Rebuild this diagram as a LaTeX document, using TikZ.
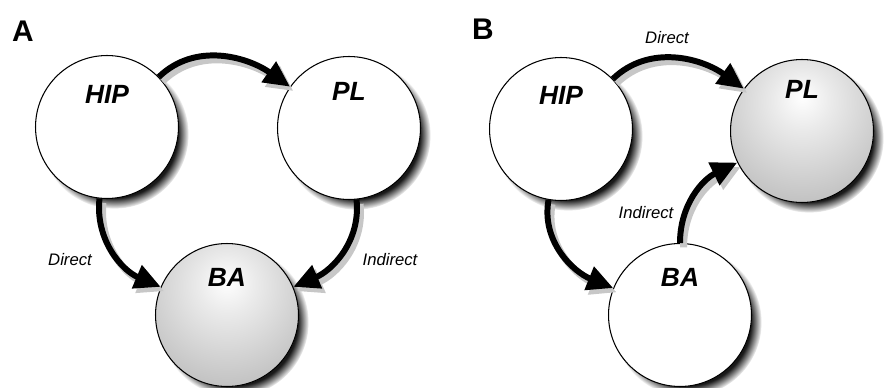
\documentclass[tikz,border=0pt]{standalone}
\usepackage{fontspec}
\setmainfont{Liberation Sans}
\usetikzlibrary{arrows.meta,shadows}

\pgfdeclareradialshading{sphere}{\pgfpoint{0bp}{12bp}}{color(0bp)=(white); color(10bp)=(white!92!black); color(36bp)=(white!74!black); color(62bp)=(white!52!black); color(100bp)=(white!52!black)}

\begin{document}
\begin{tikzpicture}[x=0.02cm, y=-0.02cm,
  area/.style={circle, draw=black, line width=0.6pt, fill=white, minimum size=2.86cm, inner sep=0pt,
    circular drop shadow={shadow xshift=4pt, shadow yshift=-4pt, shadow scale=1.04, fill=black!90}},
  active/.style={area, shading=sphere},
  areaname/.style={font=\bfseries\itshape\fontsize{15}{17}\selectfont},
  link/.style={line width=3.4pt, -{Triangle[length=0.52cm, width=0.48cm]},
    preaction={draw=black!22, line width=4pt, -{Triangle[length=0.52cm, width=0.48cm]},
      transform canvas={shift={(2pt,-2.5pt)}}}},
  tag/.style={font=\itshape\fontsize{9.5}{11}\selectfont},
  panel/.style={font=\bfseries\fontsize{17}{19}\selectfont}]

\useasboundingbox (0,0) rectangle (888,388);

% panel A
\node [panel] (A) at (23,31) {A};
\node [area, label={[areaname, yshift=0.66cm]center:HIP}] (HIPa) at (107,127) {};
\node [area, label={[areaname, yshift=0.74cm]center:PL}] (PLa) at (349,128) {};
\node [active, label={[areaname, yshift=0.76cm]center:BA}] (BAa) at (227,315) {};

\draw [link] (HIPa) to[out=44, in=145] (PLa);
\draw [link] (HIPa) to[out=-96, in=157] (BAa);
\draw [link] (PLa) to[out=-84, in=23] (BAa);

\node [tag] (dirA) at (70,260) {Direct};
\node [tag] (indA) at (390,260) {Indirect};

% panel B
\node [panel] (B) at (483,29) {B};
\node [area, label={[areaname, yshift=0.68cm]center:HIP}] (HIPb) at (561,129) {};
\node [active, label={[areaname, yshift=0.84cm]center:PL}] (PLb) at (802,131) {};
\node [area, label={[areaname, yshift=0.76cm]center:BA}] (BAb) at (680,315) {};

\draw [link] (HIPb) to[out=44, in=144] (PLb);
\draw [link] (HIPb) to[out=-100, in=158] (BAb);
\draw [link] (BAb) to[out=90, in=206] (PLb);

\node [tag] (dirB) at (667,38) {Direct};
\node [tag] (indB) at (646,213) {Indirect};

\end{tikzpicture}
\end{document}
